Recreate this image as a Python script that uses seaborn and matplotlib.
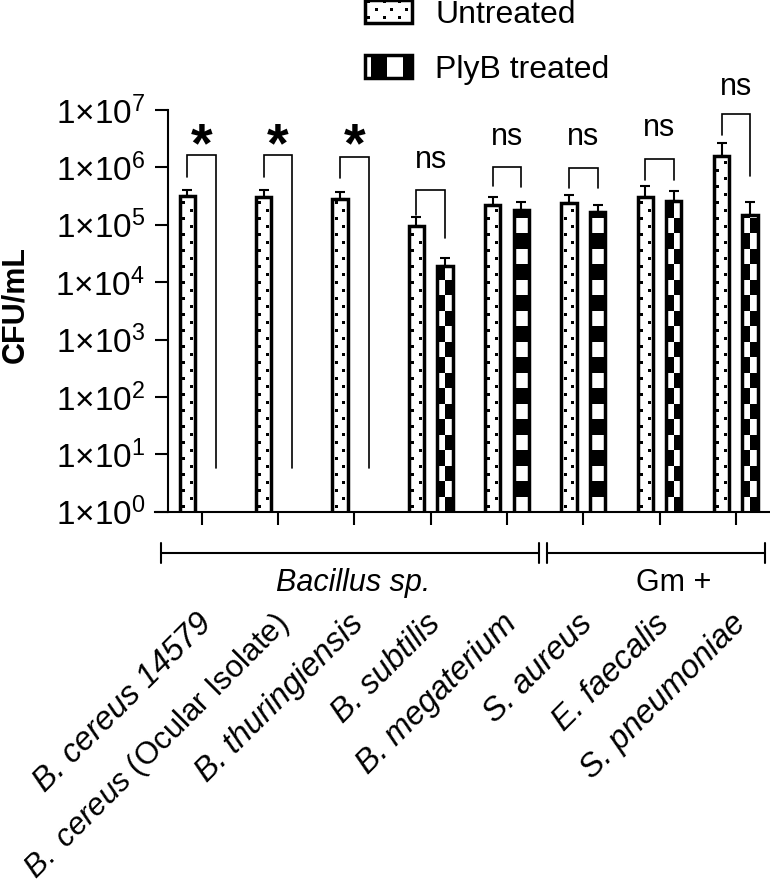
import numpy as np
import pandas as pd
import matplotlib
matplotlib.use("Agg")
import matplotlib.pyplot as plt
import matplotlib.transforms as mtransforms
from matplotlib.patches import Patch
from matplotlib.ticker import FuncFormatter, NullLocator
import seaborn as sns

# ---------------- data ----------------
strains = ["B. cereus 14579", "B. cereus (Ocular Isolate)", "B. thuringiensis",
           "B. subtilis", "B. megaterium", "S. aureus", "E. faecalis", "S. pneumoniae"]
tick_labels = ["B. cereus 14579", r"$\mathit{B.\ cereus}$ (Ocular Isolate)", "B. thuringiensis",
               "B. subtilis", "B. megaterium", "S. aureus", "E. faecalis", "S. pneumoniae"]
italic_label = [True, False, True, True, True, True, True, True]
treatments = ["Untreated", "PlyB treated"]

untreated_mean = [3.11e5, 2.99e5, 2.79e5, 9.7e4, 2.23e5, 2.44e5, 3.07e5, 1.59e6]
untreated_upper = [4.03e5, 4.03e5, 3.68e5, 1.35e5, 3.08e5, 3.34e5, 4.68e5, 2.69e6]
treated_mean = [np.nan, np.nan, np.nan, 1.93e4, 1.82e5, 1.66e5, 2.57e5, 1.47e5]
treated_upper = [np.nan, np.nan, np.nan, 2.67e4, 2.52e5, 2.23e5, 3.87e5, 2.46e5]

sig_labels = ["*", "*", "*", "ns", "ns", "ns", "ns", "ns"]
sig_y = [4.66e6, 4.66e6, 4.66e6, 1.34e6, 3.42e6, 3.4e6, 4.85e6, 2.5e7]
bracket_top = [1.64e6, 1.64e6, 1.53e6, 4.0e5, 1.03e6, 9.6e5, 1.4e6, 8.6e6]
bracket_left = [6.8e5, 6.8e5, 6.5e5, 1.48e5, 4.7e5, 4.4e5, 6.1e5, 3.7e6]
bracket_right = [5.8, 5.8, 5.8, 5.9e4, 4.55e5, 4.4e5, 6.1e5, 7.1e5]

group_names = ["Bacillus sp.", "Gm +"]
group_italic = [True, False]
group_extent = [(-0.53, 4.42), (4.53, 7.38)]
group_text_x = [1.98, 6.19]

# checker phase per treated bar (0 = cell border at bar centre, 0.5 = cell centred)
checker_shift = [0, 0, 0, 0, 0.5, 0.5, 0, 0]

# ---------------- style ----------------
sns.set_style("ticks")
plt.rcParams["font.family"] = ["Liberation Sans", "DejaVu Sans"]
plt.rcParams.update({
    "mathtext.fontset": "custom",
    "mathtext.rm": "Liberation Sans",
    "mathtext.it": "Liberation Sans:italic",
    "mathtext.bf": "Liberation Sans:bold",
    "text.color": "black", "axes.labelcolor": "black",
    "xtick.color": "black", "ytick.color": "black",
    "axes.edgecolor": "black",
})

W, H = 770, 893
fig = plt.figure(figsize=(W / 100, H / 100), dpi=100)
ax = fig.add_axes([155 / W, (H - 511.7) / H, 615 / W, 401.7 / H])

df = pd.DataFrame({
    "Strain": strains * 2,
    "Treatment": [treatments[0]] * len(strains) + [treatments[1]] * len(strains),
    "CFU": untreated_mean + treated_mean,
})

EDGE_LW = 2.5
sns.barplot(data=df, x="Strain", y="CFU", hue="Treatment", order=strains,
            hue_order=treatments, palette={t: "white" for t in treatments},
            edgecolor="black", linewidth=EDGE_LW, width=0.75, gap=0.467,
            errorbar=None, saturation=1, legend=False, log_scale=True, ax=ax)
ax.set_yscale("log", nonpositive="clip")
for p in ax.patches:
    p.set_joinstyle("miter")

ax.set_ylim(1, 1e7)
ax.set_xlim(-0.612, 7.448)
ax.spines["top"].set_visible(False)
ax.spines["right"].set_visible(False)
ax.spines["left"].set_position(("data", -0.442))
for s in ("left", "bottom"):
    ax.spines[s].set_linewidth(1.5)

ax.set_yticks([10.0 ** k for k in range(8)])
ax.yaxis.set_major_formatter(FuncFormatter(lambda v, p: r"1×10$^{%d}$" % round(np.log10(v))))
ax.yaxis.set_minor_locator(NullLocator())
ax.tick_params(axis="y", length=9.4, width=1.5, pad=7, labelsize=24)
ax.tick_params(axis="x", length=9.4, width=1.5, pad=60)

ax.set_xticks(range(len(strains)))
ax.set_xticklabels(tick_labels, rotation=45, ha="right", va="top",
                   rotation_mode="anchor", fontsize=23.5)
shift = mtransforms.ScaledTranslation(-6 / 100, 0, fig.dpi_scale_trans)
for lab, it in zip(ax.get_xticklabels(), italic_label):
    lab.set_fontstyle("italic" if it else "normal")
    if not it:
        lab.set_fontsize(22.5)
    lab.set_transform(lab.get_transform() + shift)
ax.set_xlabel("")
ax.set_ylabel("CFU/mL", fontsize=22, fontweight="bold")
ax.yaxis.set_label_coords(-0.203, 0.5146)

# error bars (upper only)
off = 0.75 / 4
xs = np.arange(len(strains))
um = np.array(untreated_mean); uu = np.array(untreated_upper)
tm = np.array(treated_mean); tu = np.array(treated_upper)
ax.errorbar(xs - off, um, yerr=[np.zeros_like(um), uu - um], fmt="none",
            ecolor="black", elinewidth=1.5, capsize=3.6, capthick=1.5, zorder=3)
ok = ~np.isnan(tm)
ax.errorbar(xs[ok] + off, tm[ok], yerr=[np.zeros(ok.sum()), (tu - tm)[ok]], fmt="none",
            ecolor="black", elinewidth=1.5, capsize=3.6, capthick=1.5, zorder=3)

# significance brackets
for i in range(len(strains)):
    xl, xr = i - off, i + off
    ax.plot([xl, xl, xr, xr], [bracket_left[i], bracket_top[i], bracket_top[i], bracket_right[i]],
            color="black", lw=1.2, clip_on=False, solid_joinstyle="miter", zorder=3)
    if sig_labels[i] == "*":
        fs = 40
        ax.annotate("*", xy=(i, sig_y[i]), xytext=(0, -0.58 * fs), textcoords="offset points",
                    ha="center", va="baseline", fontsize=fs, fontweight="bold",
                    annotation_clip=False)
    else:
        ax.text(i, sig_y[i], sig_labels[i], ha="center", va="center", fontsize=22, clip_on=False)

# group brackets below axis
trans = mtransforms.blended_transform_factory(ax.transData, ax.transAxes)
yl, cap = -0.1028, 0.025
for (x0, x1), name, it, tx in zip(group_extent, group_names, group_italic, group_text_x):
    ax.plot([x0, x1], [yl, yl], transform=trans, clip_on=False, color="black", lw=1.5)
    for xx in (x0, x1):
        ax.plot([xx, xx], [yl - cap, yl + cap], transform=trans, clip_on=False,
                color="black", lw=1.5)
    ax.text(tx, -0.1775, name, transform=trans, ha="center", va="center", fontsize=22,
            fontstyle="italic" if it else "normal")

# legend
handles = [Patch(facecolor="white", edgecolor="black", linewidth=EDGE_LW) for _ in treatments]
leg = fig.legend(handles, treatments, loc="upper left", bbox_to_anchor=(365 / W, 1.0),
                 frameon=False, fontsize=23, handlelength=1.48, handleheight=0.72,
                 handletextpad=0.72, labelspacing=0.78, borderpad=0, borderaxespad=0)

# ---------------- fill patterns ----------------
fig.canvas.draw()
renderer = fig.canvas.get_renderer()


def dots_img(w, h, cols, period=16, stagger=8, size=3):
    arr = np.zeros((h, w, 4), np.uint8)
    for j, cx in enumerate(cols):
        x0 = int(round(cx - size / 2))
        y = 4 + (stagger if j % 2 else 0)
        while y < h:
            arr[y:y + size, max(x0, 0):max(x0 + size, 0), 3] = 255
            y += period
    return arr


def checker_img(w, h, xph, yph, cw=16, ch=15.5, parity=0):
    xx = np.arange(w) + 0.5
    yy = np.arange(h) + 0.5
    cx = np.floor((xx - xph) / cw)
    cy = np.floor((yy - yph) / ch)
    mask = ((cx[None, :] + cy[:, None]) % 2) == parity
    arr = np.zeros((h, w, 4), np.uint8)
    arr[..., 3] = mask * 255
    return arr


ybase = ax.bbox.y0
for p in ax.patches:
    bx, bw, bh = p.get_x(), p.get_width(), p.get_height()
    if not (np.isfinite(bx) and np.isfinite(bw) and np.isfinite(bh)) or bh <= 1:
        continue
    (dx0, dy1), (dx1, _) = ax.transData.transform([(bx, bh), (bx + bw, bh)])
    xo = int(round(dx0)); x1 = int(round(dx1))
    yo = int(round(ybase)); y1 = int(round(dy1))
    w, h = x1 - xo, y1 - yo
    if w <= 0 or h <= 0:
        continue
    cdata = bx + bw / 2
    g = int(round(cdata))
    cxr = (dx0 + dx1) / 2 - xo
    if cdata < g:
        arr = dots_img(w, h, [cxr - 3.8, cxr + 3.8])
    else:
        arr = checker_img(w, h, cxr - checker_shift[g] * 16, 0,
                          parity=1 if checker_shift[g] else 0)
    fig.figimage(arr, xo=xo, yo=yo, origin="lower", zorder=6)

lp = leg.get_patches()
for k, p in enumerate(lp):
    bb = p.get_window_extent(renderer)
    xo = int(round(bb.x0)); yo = int(round(bb.y0))
    w = int(round(bb.x1)) - xo; h = int(round(bb.y1)) - yo
    if k == 0:
        arr = dots_img(w, h, [4 + 7.6 * j for j in range(7)], period=16, stagger=8)
    else:
        arr = checker_img(w, h, 6, -4, cw=16, ch=30)
    fig.figimage(arr, xo=xo, yo=yo, origin="lower", zorder=6)

fig.savefig("out.png", dpi=100)
